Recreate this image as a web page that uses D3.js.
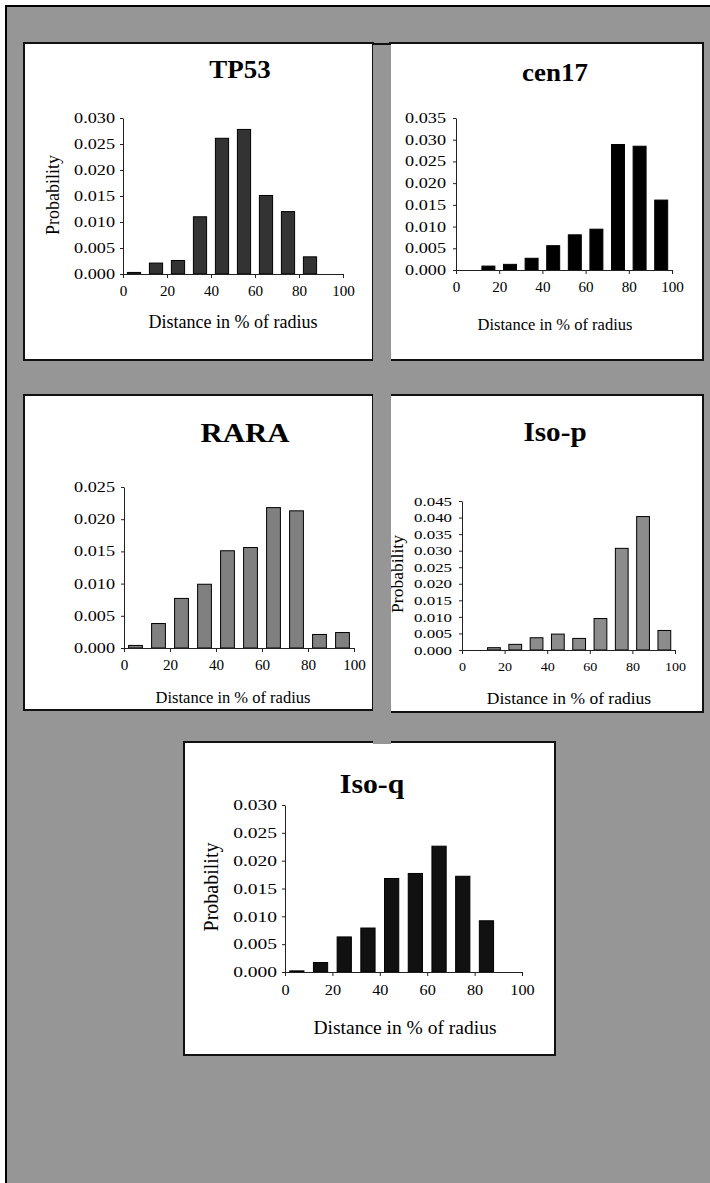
<!DOCTYPE html>
<html>
<head>
<meta charset="utf-8">
<script src="https://cdn.jsdelivr.net/npm/d3@7"></script>
<style>
  body { margin: 0; background: #fff; }
  svg { display: block; }
  text { font-family: "Liberation Serif", "Times New Roman", serif; fill: #000; }
</style>
</head>
<body>
<div id="chart"></div>
<script>
// bins are 10% wide, bars drawn at bin centres
var binCenters = [5, 15, 25, 35, 45, 55, 65, 75, 85, 95];
var xTicks = [0, 20, 40, 60, 80, 100];

// probability per bin
var tp53  = [0.0003, 0.0021, 0.0026, 0.0110, 0.0261, 0.0278, 0.0151, 0.0120, 0.0033, 0];
var cen17 = [0, 0.0009, 0.0013, 0.0027, 0.0056, 0.0081, 0.0094, 0.0289, 0.0285, 0.0161];
var rara  = [0.0004, 0.0038, 0.0077, 0.0099, 0.0151, 0.0156, 0.0218, 0.0213, 0.0021, 0.0024];
var isoP  = [0, 0.0007, 0.0017, 0.0037, 0.0048, 0.0035, 0.0095, 0.0307, 0.0403, 0.0059];
var isoQ  = [0.0002, 0.0017, 0.0063, 0.0079, 0.0168, 0.0177, 0.0226, 0.0172, 0.0092, 0];

var xLabel = "Distance in % of radius";
var yLabel = "Probability";

// layout of each little chart (box = white card, plot = axis frame)
var panels = [
  { title: "TP53", values: tp53, yMax: 0.030, fill: "#333333",
    box: [24, 43, 349, 317], plot: [123, 118, 343, 274],
    titleAt: [240, 78, 24.5], xlabAt: [233, 328, 18], ylabAt: [59, 195, 18], tick: 14, tickGap: 8 },
  { title: "cen17", values: cen17, yMax: 0.035, fill: "#000000",
    box: [390, 43, 313, 317], plot: [456, 118, 672, 270],
    titleAt: [555, 81, 24.5], xlabAt: [555, 330, 16.5], ylabAt: null, tick: 14, tickGap: 10 },
  { title: "RARA", values: rara, yMax: 0.025, fill: "#808080",
    box: [24, 395, 349, 315], plot: [124, 487, 354, 648],
    titleAt: [245, 442, 28], xlabAt: [233, 703, 16.5], ylabAt: null, tick: 14, tickGap: 9 },
  { title: "Iso-p", values: isoP, yMax: 0.045, fill: "#8c8c8c",
    box: [390, 395, 313, 317], plot: [462, 501, 675, 650],
    titleAt: [555, 441, 26.5], xlabAt: [569, 704, 17.5], ylabAt: [403, 574, 17.5], tick: 13, tickGap: 10 },
  { title: "Iso-q", values: isoQ, yMax: 0.030, fill: "#111111",
    box: [184, 742, 371, 313], plot: [285, 805, 522, 972],
    titleAt: [372, 793, 27], xlabAt: [405, 1034, 19.5], ylabAt: [218, 887, 20], tick: 15, tickGap: 8 }
];

var W = 710, H = 1183;

var svg = d3.select("#chart").append("svg")
  .attr("width", W)
  .attr("height", H);

// grey page with a black frame
svg.append("rect")
  .attr("x", 6).attr("y", 6)
  .attr("width", W + 20).attr("height", H + 20)
  .attr("fill", "#969696")
  .attr("stroke", "#000")
  .attr("stroke-width", 2);

var drawPanel = function(p) {
  var g = svg.append("g");

  // white card
  g.append("rect")
    .attr("x", p.box[0]).attr("y", p.box[1])
    .attr("width", p.box[2]).attr("height", p.box[3])
    .attr("fill", "#fff")
    .attr("stroke", "#111")
    .attr("stroke-width", 2);

  var x = d3.scaleLinear().domain([0, 100]).range([p.plot[0], p.plot[2]]);
  var y = d3.scaleLinear().domain([0, p.yMax]).range([p.plot[3], p.plot[1]]);
  var barW = (x(10) - x(0)) * 0.6;

  // bars
  g.selectAll("rect.bar")
    .data(p.values)
    .enter()
    .append("rect")
    .attr("class", "bar")
    .attr("x", function(d, i) { return x(binCenters[i]) - barW / 2; })
    .attr("y", function(d) { return y(d); })
    .attr("width", barW)
    .attr("height", function(d) { return y(0) - y(d); })
    .attr("fill", p.fill)
    .attr("stroke", "#000")
    .attr("stroke-width", 1)
    .style("display", function(d) { return d > 0 ? null : "none"; });

  // y axis
  var yTicks = d3.range(0, p.yMax + 0.0001, 0.005);
  var yAxis = d3.axisLeft(y)
    .tickValues(yTicks)
    .tickFormat(d3.format(".3f"))
    .tickSizeInner(3)
    .tickSizeOuter(0);

  var ya = g.append("g")
    .attr("transform", "translate(" + p.plot[0] + ",0)")
    .call(yAxis);

  // x axis
  var xAxis = d3.axisBottom(x)
    .tickValues(xTicks)
    .tickSizeInner(4)
    .tickSizeOuter(0);

  var xa = g.append("g")
    .attr("transform", "translate(0," + p.plot[3] + ")")
    .call(xAxis);

  [ya, xa].forEach(function(a) {
    a.select(".domain").attr("stroke", "#222");
    a.selectAll(".tick line").attr("stroke", "#222");
    a.selectAll("text")
      .style("font-family", '"Liberation Serif", serif')
      .style("font-size", p.tick + "px")
      .attr("fill", "#000");
  });

  // tick labels in the original are a bit wider than Times
  ya.selectAll(".tick text")
    .attr("x", -p.tickGap / 1.3)
    .attr("transform", "scale(1.3,1)");
  xa.selectAll(".tick text")
    .attr("y", 12)
    .attr("dy", "0.71em")
    .attr("transform", "scale(1.08,1)");

  // title
  g.append("text")
    .attr("transform", "translate(" + p.titleAt[0] + "," + p.titleAt[1] + ") scale(1.1,1)")
    .attr("text-anchor", "middle")
    .style("font-weight", "bold")
    .style("font-size", p.titleAt[2] + "px")
    .text(p.title);

  // x label
  g.append("text")
    .attr("x", p.xlabAt[0])
    .attr("y", p.xlabAt[1])
    .attr("text-anchor", "middle")
    .style("font-size", p.xlabAt[2] + "px")
    .text(xLabel);

  // y label
  if (p.ylabAt) {
    g.append("text")
      .attr("transform", "translate(" + p.ylabAt[0] + "," + p.ylabAt[1] + ") rotate(-90)")
      .attr("text-anchor", "middle")
      .style("font-size", p.ylabAt[2] + "px")
      .text(yLabel);
  }
};

panels.forEach(drawPanel);

// grey gutter between the two columns of cards
svg.append("rect")
  .attr("x", 373).attr("y", 45)
  .attr("width", 18).attr("height", 699)
  .attr("fill", "#969696");

// top edge of the first row runs across the gutter
svg.append("line")
  .attr("x1", 372).attr("x2", 391)
  .attr("y1", 44).attr("y2", 44)
  .attr("stroke", "#111")
  .attr("stroke-width", 2);
</script>
</body>
</html>
